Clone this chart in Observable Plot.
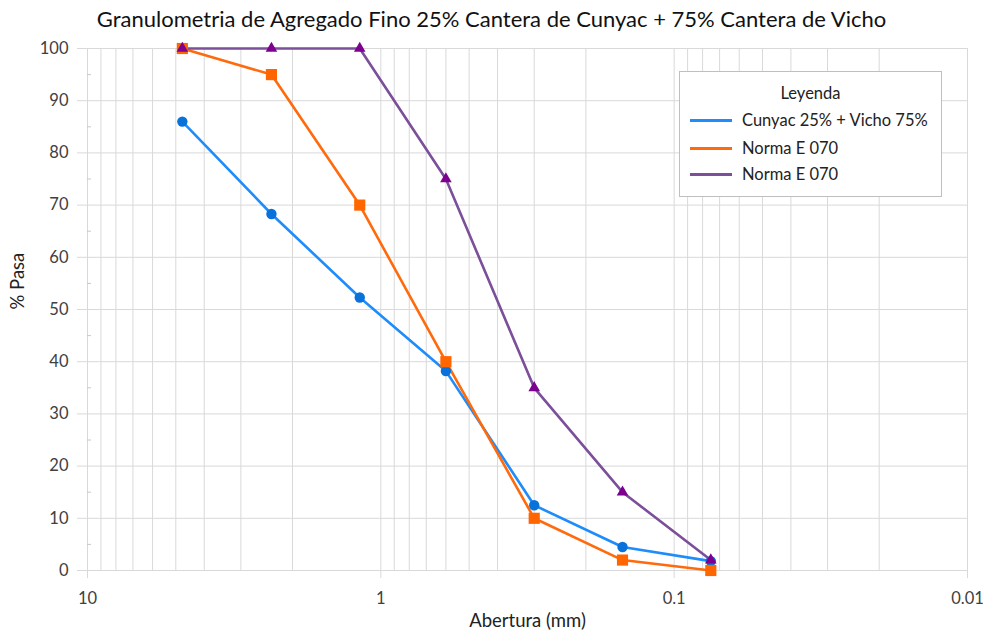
<!DOCTYPE html>
<html>
<head>
<meta charset="utf-8">
<script src="https://cdn.jsdelivr.net/npm/d3@7"></script>
<script src="https://cdn.jsdelivr.net/npm/@observablehq/plot@0.6"></script>
<style>
  body { margin: 0; background: #fff; font-family: Lato, "Open Sans", sans-serif; color: #404040; }
  #wrap { position: relative; width: 983px; height: 635px; }
  #title { height: 36px; line-height: 38px; text-align: center; font-size: 22px; color: #111; }
  #legend { position: absolute; left: 679px; top: 71px; width: 261px; height: 124px;
            border: 1px solid #bfbfbf; background: #fff; font-size: 16.5px; color: #222; }
  #legend .head { position: absolute; top: 11px; width: 100%; text-align: center; }
  #legend .row { position: absolute; left: 10px; height: 20px; line-height: 20px; }
  #legend .sw { display: inline-block; width: 42px; height: 3px; vertical-align: middle; margin-right: 10px; position: relative; top: -1px; }
</style>
</head>
<body>
<div id="wrap">
  <div id="title">Granulometria de Agregado Fino 25% Cantera de Cunyac + 75% Cantera de Vicho</div>
  <div id="chart"></div>
  <div id="legend"></div>
</div>
<script>
// Tamices (abertura en mm) y porcentaje que pasa
const aberturas = [4.75, 2.36, 1.18, 0.6, 0.3, 0.15, 0.075];
const mezcla = [86, 68.3, 52.3, 38.2, 12.5, 4.5, 1.8];      // Cunyac 25% + Vicho 75%
const normaInf = [100, 95, 70, 40, 10, 2, 0];               // Norma E 070 (límite inferior)
const normaSup = [100, 100, 100, 75, 35, 15, 2];            // Norma E 070 (límite superior)

const series = [
  {name: "Cunyac 25% + Vicho 75%", values: mezcla, line: "#1E8CFA", mark: "#0872DA", symbol: "circle", r: 5.2},
  {name: "Norma E 070", values: normaInf, line: "#FF6A0C", mark: "#FF6600", symbol: "square", r: 6.3},
  {name: "Norma E 070", values: normaSup, line: "#7B4F99", mark: "#7D008F", symbol: "triangle", r: 4.3}
];

const xTicks = [10, 1, 0.1, 0.01];
const yTicks = d3.range(0, 101, 10);
const yMinor = d3.range(5, 100, 10);
const xGrid = [];
for (const p of [0.01, 0.1, 1]) for (let k = 1; k <= 9; k++) xGrid.push(+(k * p).toPrecision(3));
xGrid.push(10);

const rows = series.flatMap((s, i) => aberturas.map((a, j) => ({serie: i, x: a, y: s.values[j]})));

const grid = "#d9d9d9";
const marks = [
  Plot.ruleX(xGrid, {stroke: grid, strokeWidth: 1}),
  Plot.ruleY(yTicks, {stroke: grid, strokeWidth: 1}),
  Plot.axisY(yTicks, {tickSize: 10, text: null, color: grid, label: null}),
  Plot.axisY(yMinor, {tickSize: -4, text: null, color: "#c8c8c8", label: null}),
  Plot.axisY(yTicks, {tickSize: 0, tickPadding: 19, fontSize: 16.5, color: "#404040", label: null}),
  Plot.axisX(xTicks, {tickSize: 8, text: null, color: grid, label: null}),
  Plot.axisX(xTicks, {tickSize: 0, tickPadding: 22, fontSize: 16.5, color: "#404040", label: null, tickFormat: d => String(d)}),
  Plot.text(["% Pasa"], {frameAnchor: "left", dx: -69, rotate: -90, fontSize: 18.5, fill: "#222"}),
  Plot.text(["Abertura (mm)"], {frameAnchor: "bottom", dy: 56, fontSize: 18.5, fill: "#222"})
];
series.forEach((s, i) => {
  const d = rows.filter(r => r.serie === i);
  marks.push(Plot.line(d, {x: "x", y: "y", stroke: s.line, strokeWidth: 2.6}));
});
series.forEach((s, i) => {
  const d = rows.filter(r => r.serie === i);
  marks.push(Plot.dot(d, {x: "x", y: "y", symbol: s.symbol, r: s.r, fill: s.mark, stroke: "none"}));
});

const chart = Plot.plot({
  width: 983,
  height: 599,
  marginTop: 12,
  marginBottom: 65,
  marginLeft: 87,
  marginRight: 16,
  style: {fontFamily: "Lato, 'Open Sans', sans-serif", background: "#fff"},
  x: {type: "log", domain: [10, 0.01], axis: null},
  y: {domain: [0, 100], axis: null},
  marks
});
document.getElementById("chart").appendChild(chart);

// Leyenda
const leg = document.getElementById("legend");
const head = document.createElement("div");
head.className = "head";
head.textContent = "Leyenda";
leg.appendChild(head);
[38, 66, 92].forEach((top, i) => {
  const row = document.createElement("div");
  row.className = "row";
  row.style.top = top + "px";
  const sw = document.createElement("span");
  sw.className = "sw";
  sw.style.background = series[i].line;
  row.appendChild(sw);
  row.appendChild(document.createTextNode(series[i].name));
  leg.appendChild(row);
});
</script>
</body>
</html>
